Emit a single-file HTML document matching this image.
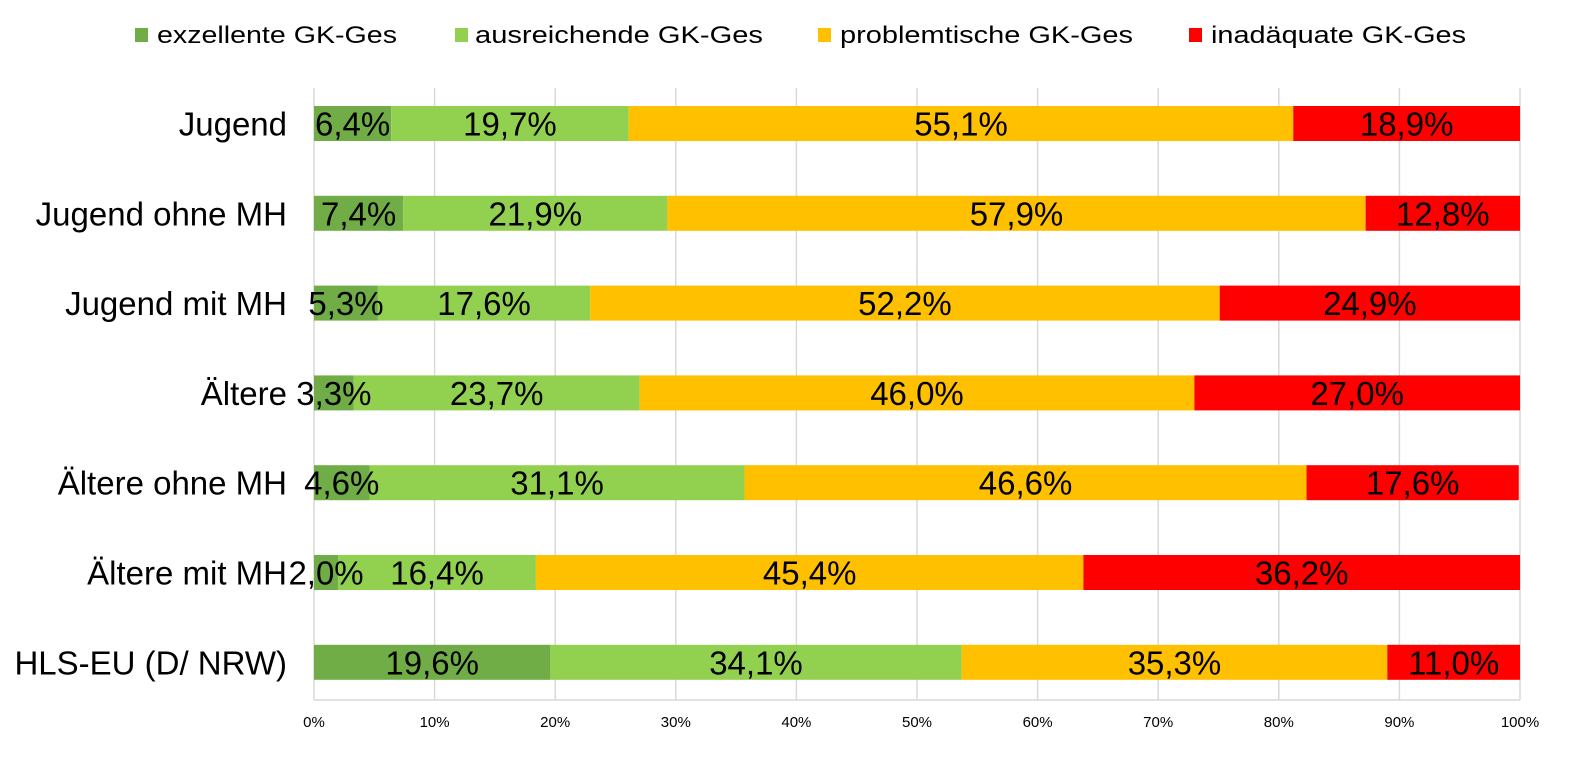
<!DOCTYPE html>
<html><head><meta charset="utf-8"><style>
html,body{margin:0;padding:0;background:#fff;}
svg{display:block;font-family:"Liberation Sans",sans-serif;}
</style></head><body>
<svg width="1592" height="768" viewBox="0 0 1592 768" xmlns="http://www.w3.org/2000/svg">
<g id="grid" stroke="#d9d9d9" stroke-width="1.5"></g>
<g id="bars"></g>
<g id="legend" font-size="24" fill="#000">
<rect x="135" y="28" width="13" height="14" fill="#70AD47"/><text x="157" y="43" textLength="240" lengthAdjust="spacingAndGlyphs">exzellente GK-Ges</text>
<rect x="455" y="28" width="13" height="14" fill="#92D050"/><text x="475" y="43" textLength="288" lengthAdjust="spacingAndGlyphs">ausreichende GK-Ges</text>
<rect x="818" y="28" width="13" height="14" fill="#FFC000"/><text x="840" y="43" textLength="293" lengthAdjust="spacingAndGlyphs">problemtische GK-Ges</text>
<rect x="1189" y="28" width="13" height="14" fill="#FF0000"/><text x="1211" y="43" textLength="255" lengthAdjust="spacingAndGlyphs">inadäquate GK-Ges</text>
</g>
<script>
var ns="http://www.w3.org/2000/svg";
function el(t,a,p,txt){var e=document.createElementNS(ns,t);for(var k in a)e.setAttribute(k,a[k]);if(txt!==undefined)e.textContent=txt;p.appendChild(e);return e;}
var g=document.getElementById('grid'),b=document.getElementById('bars'),svg=document.querySelector('svg');
var x0=314,W=1206;
for(var i=0;i<=10;i++){var x=x0+W*i/10;el('line',{x1:x,y1:88,x2:x,y2:700},g);
el('text',{x:x,y:727,'font-size':15,'text-anchor':'middle'},svg,(i*10)+'%');}
el('line',{x1:x0,y1:700,x2:x0+W,y2:700,stroke:'#d9d9d9','stroke-width':1.5},g);
var data=[["Jugend",[6.4,19.7,55.1,18.9]],["Jugend ohne MH",[7.4,21.9,57.9,12.8]],["Jugend mit MH",[5.3,17.6,52.2,24.9]],["Ältere",[3.3,23.7,46.0,27.0]],["Ältere ohne MH",[4.6,31.1,46.6,17.6]],["Ältere mit MH",[2.0,16.4,45.4,36.2]],["HLS-EU (D/ NRW)",[19.6,34.1,35.3,11.0]]];
var cols=["#70AD47","#92D050","#FFC000","#FF0000"];
data.forEach(function(d,r){var y=106+r*89.8,h=35,c=0;
el('text',{x:287,y:y+h/2+12,'font-size':33,'text-anchor':'end'},svg,d[0]);
d[1].forEach(function(v,j){var xa=x0+W*c/100;c+=v;var xb=x0+W*Math.min(c,100)/100;
el('rect',{x:xa,y:y,width:xb-xa,height:h,fill:cols[j]},b);
el('text',{x:(xa+xb)/2,y:y+h/2+12,'font-size':33,'text-anchor':'middle'},svg,v.toFixed(1).replace('.',',')+'%');});});
</script>
</svg>
</body></html>
